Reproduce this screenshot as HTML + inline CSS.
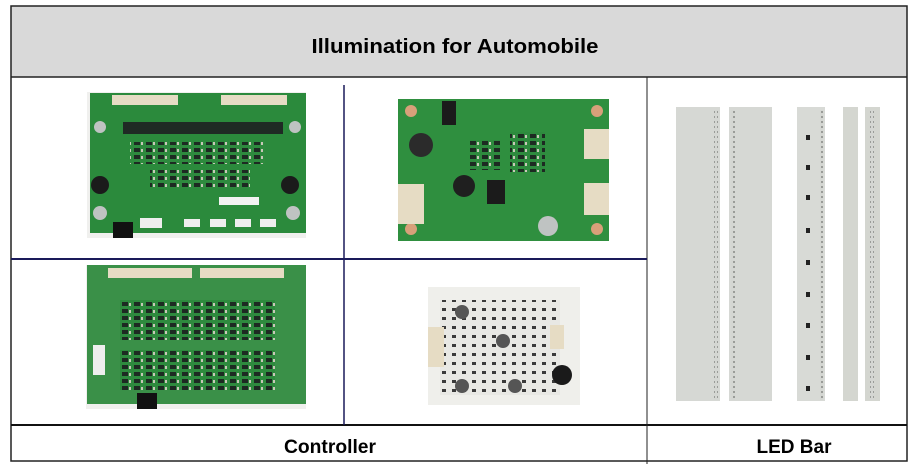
<!DOCTYPE html>
<html><head><meta charset="utf-8"><style>
html,body{margin:0;padding:0;background:#fff;width:909px;height:464px;overflow:hidden}
svg{display:block}
text{font-family:"Liberation Sans",sans-serif;font-weight:bold;fill:#000}
</style></head><body>
<svg width="909" height="464" viewBox="0 0 909 464">
<defs>
<pattern id="ch" width="12" height="7" patternUnits="userSpaceOnUse"><rect width="12" height="7" fill="#2e8a3e"/><rect x="2" y="1" width="6" height="4" fill="#1d2a22"/><rect x="9" y="2" width="2" height="3" fill="#c8c8b8"/></pattern>
<pattern id="wh" width="10" height="9" patternUnits="userSpaceOnUse"><rect width="10" height="9" fill="#e8e8e4"/><rect x="2" y="2" width="4" height="3" fill="#3a3a3a"/></pattern>
<pattern id="led" width="4" height="5" patternUnits="userSpaceOnUse"><rect width="4" height="5" fill="#d4d6d2"/><rect x="1" y="1" width="2" height="2" fill="#9a9c98"/></pattern>
</defs>
<rect x="11" y="6" width="896" height="71" fill="#d9d9d9"/>
<rect x="11" y="6" width="896" height="455" fill="none" stroke="#222" stroke-width="1.5"/>
<line x1="11" y1="77" x2="907" y2="77" stroke="#222" stroke-width="1.5"/>
<line x1="11" y1="425" x2="907" y2="425" stroke="#111" stroke-width="2"/>
<line x1="647" y1="77" x2="647" y2="464" stroke="#222" stroke-width="1"/>
<line x1="344" y1="85" x2="344" y2="425" stroke="#1a1a5a" stroke-width="1.5"/>
<line x1="11" y1="259" x2="647" y2="259" stroke="#1a1a5a" stroke-width="2"/>
<text x="455" y="53" font-size="20" text-anchor="middle" textLength="287" lengthAdjust="spacingAndGlyphs">Illumination for Automobile</text>
<text x="330" y="453" font-size="19" text-anchor="middle" textLength="92" lengthAdjust="spacingAndGlyphs">Controller</text>
<text x="794" y="453" font-size="19" text-anchor="middle" textLength="75" lengthAdjust="spacingAndGlyphs">LED Bar</text>

<!-- board 1 -->
<rect x="87" y="92" width="219" height="146" fill="#f0f0ee"/>
<rect x="90" y="93" width="216" height="140" fill="#2b8a3c"/>
<rect x="112" y="95" width="66" height="10" fill="#e6dcc4"/><rect x="221" y="95" width="66" height="10" fill="#e6dcc4"/>
<rect x="123" y="122" width="160" height="12" fill="#1f2a24"/>
<rect x="130" y="142" width="135" height="22" fill="url(#ch)"/>
<rect x="150" y="170" width="100" height="18" fill="url(#ch)"/>
<circle cx="100" cy="185" r="9" fill="#1b1b1b"/><circle cx="290" cy="185" r="9" fill="#1b1b1b"/>
<circle cx="100" cy="213" r="7" fill="#bfc3c2"/><circle cx="293" cy="213" r="7" fill="#bfc3c2"/>
<circle cx="100" cy="127" r="6" fill="#bfc3c2"/><circle cx="295" cy="127" r="6" fill="#bfc3c2"/>
<rect x="113" y="222" width="20" height="16" fill="#111"/>
<rect x="140" y="218" width="22" height="10" fill="#eee"/>
<rect x="184" y="219" width="16" height="8" fill="#eee"/><rect x="210" y="219" width="16" height="8" fill="#eee"/><rect x="235" y="219" width="16" height="8" fill="#eee"/><rect x="260" y="219" width="16" height="8" fill="#eee"/>
<rect x="219" y="197" width="40" height="8" fill="#f2f2f2"/>

<!-- board 2 -->
<rect x="398" y="99" width="211" height="142" fill="#2f8f3f"/>
<circle cx="411" cy="111" r="6" fill="#d8a07a"/><circle cx="597" cy="111" r="6" fill="#d8a07a"/><circle cx="411" cy="229" r="6" fill="#d8a07a"/><circle cx="597" cy="229" r="6" fill="#d8a07a"/>
<rect x="442" y="101" width="14" height="24" fill="#1b1b1b"/>
<circle cx="421" cy="145" r="12" fill="#2b2b2b"/>
<rect x="584" y="129" width="25" height="30" fill="#e6dcc4"/><rect x="584" y="183" width="25" height="32" fill="#e6dcc4"/>
<rect x="398" y="184" width="26" height="40" fill="#e6dcc4"/>
<circle cx="464" cy="186" r="11" fill="#1f1f1f"/>
<rect x="487" y="180" width="18" height="24" fill="#1b1b1b"/>
<circle cx="548" cy="226" r="10" fill="#bfc3c2"/>
<rect x="510" y="132" width="35" height="40" fill="url(#ch)"/>
<rect x="470" y="140" width="30" height="30" fill="url(#ch)"/>

<!-- board 3 -->
<rect x="86" y="265" width="220" height="144" fill="#f0f0ee"/>
<rect x="87" y="265" width="219" height="139" fill="#3a9048"/>
<rect x="108" y="268" width="84" height="10" fill="#e6dcc4"/><rect x="200" y="268" width="84" height="10" fill="#e6dcc4"/>
<rect x="120" y="300" width="155" height="40" fill="url(#ch)"/>
<rect x="120" y="350" width="155" height="40" fill="url(#ch)"/>
<rect x="93" y="345" width="12" height="30" fill="#eee"/>
<rect x="137" y="393" width="20" height="16" fill="#111"/>

<!-- board 4 -->
<rect x="428" y="287" width="152" height="118" fill="#efefeb"/>
<rect x="440" y="300" width="120" height="95" fill="url(#wh)"/>
<rect x="428" y="327" width="16" height="40" fill="#e6dcc4"/>
<rect x="550" y="325" width="14" height="24" fill="#e6dcc4"/>
<circle cx="562" cy="375" r="10" fill="#1a1a1a"/>
<circle cx="462" cy="312" r="7" fill="#555"/><circle cx="503" cy="341" r="7" fill="#555"/><circle cx="462" cy="386" r="7" fill="#555"/><circle cx="515" cy="386" r="7" fill="#555"/>

<!-- LED bars -->
<rect x="676" y="107" width="44" height="294" fill="#d6d8d4"/><rect x="714" y="110" width="4" height="290" fill="url(#led)"/>
<rect x="729" y="107" width="43" height="294" fill="#d6d8d4"/><rect x="731" y="110" width="4" height="290" fill="url(#led)"/>
<rect x="797" y="107" width="28" height="294" fill="#d8dad6"/><rect x="820" y="110" width="3" height="290" fill="url(#led)"/>
<rect x="806" y="135" width="4" height="5" fill="#222"/><rect x="806" y="165" width="4" height="5" fill="#222"/><rect x="806" y="195" width="4" height="5" fill="#222"/><rect x="806" y="228" width="4" height="5" fill="#222"/><rect x="806" y="260" width="4" height="5" fill="#222"/><rect x="806" y="292" width="4" height="5" fill="#222"/><rect x="806" y="323" width="4" height="5" fill="#222"/><rect x="806" y="355" width="4" height="5" fill="#222"/><rect x="806" y="386" width="4" height="5" fill="#222"/>
<rect x="843" y="107" width="15" height="294" fill="#d4d6d0"/>
<rect x="865" y="107" width="15" height="294" fill="#d4d6d0"/><rect x="870" y="110" width="4" height="290" fill="url(#led)"/>
</svg>
</body></html>
